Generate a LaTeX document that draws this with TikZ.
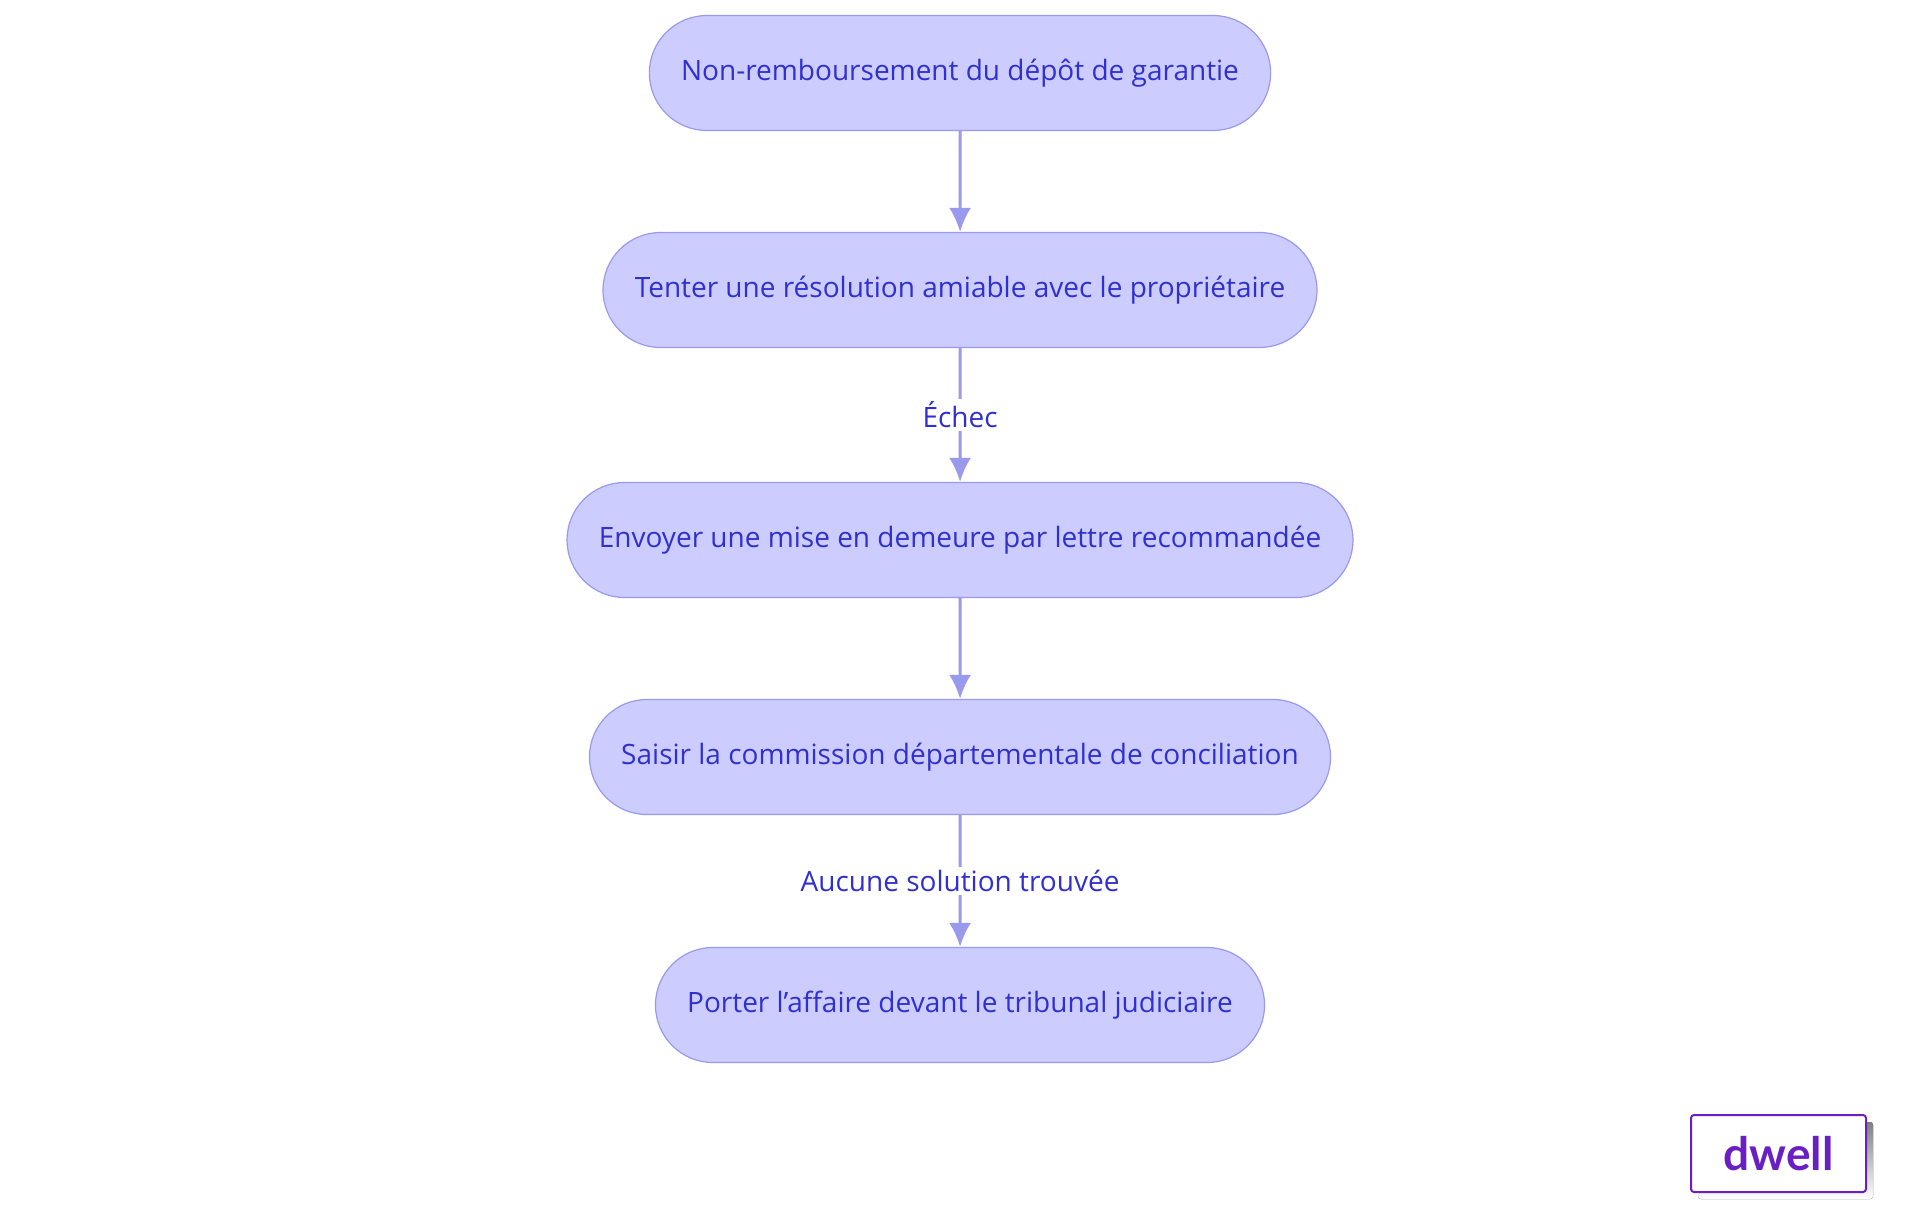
\documentclass[tikz,border=0pt]{standalone}
\usepackage{fontspec}
\setmainfont{Open Sans}
\newfontfamily\logofont{Lato}
\usetikzlibrary{positioning,arrows.meta,shapes.misc}
\definecolor{boxfill}{HTML}{CCCCFF}
\definecolor{boxline}{HTML}{9999EE}
\definecolor{txt}{HTML}{3030D0}
\definecolor{logo}{HTML}{6A1FC4}
\definecolor{shade}{HTML}{E8DDF7}
\tikzset{
  stage/.style={rounded rectangle, draw=boxline, fill=boxfill, line width=1.2bp,
    text=txt, minimum height=115bp, inner xsep=30bp, font=\fontsize{28bp}{32bp}\selectfont},
  flow/.style={draw=boxline, line width=3bp, -{Latex[length=24bp,width=22bp]}},
  lbl/.style={fill=white, text=txt, font=\fontsize{28bp}{32bp}\selectfont, inner sep=3bp}
}
\begin{document}
\begin{tikzpicture}[x=1bp,y=-1bp]
\useasboundingbox (0,0) rectangle (1920,1215);
\node[stage] (depot) at (960,73) {Non-remboursement du dépôt de garantie};
\node[stage] (amiable) at (960,290) {Tenter une résolution amiable avec le propriétaire};
\node[stage] (demeure) at (960,540) {Envoyer une mise en demeure par lettre recommandée};
\node[stage] (commission) at (960,757) {Saisir la commission départementale de conciliation};
\node[stage] (tribunal) at (960,1005) {Porter l'affaire devant le tribunal judiciaire};

\draw[flow] (depot) -- (amiable);
\draw[flow] (amiable) -- node[lbl] {Échec} (demeure);
\draw[flow] (demeure) -- (commission);
\draw[flow] (commission) -- node[lbl] {Aucune solution trouvée} (tribunal);

% logo
\fill[shade, rounded corners=3bp] (1698,1122) rectangle (1873,1199);
\node[draw=logo, fill=white, line width=2bp, rounded corners=3bp, minimum width=175bp,
  minimum height=77bp, text=logo, font=\logofont\fontsize{46bp}{50bp}\selectfont\bfseries]
  (dwell) at (1778.5,1153.5) {dwell};
\end{tikzpicture}
\end{document}
